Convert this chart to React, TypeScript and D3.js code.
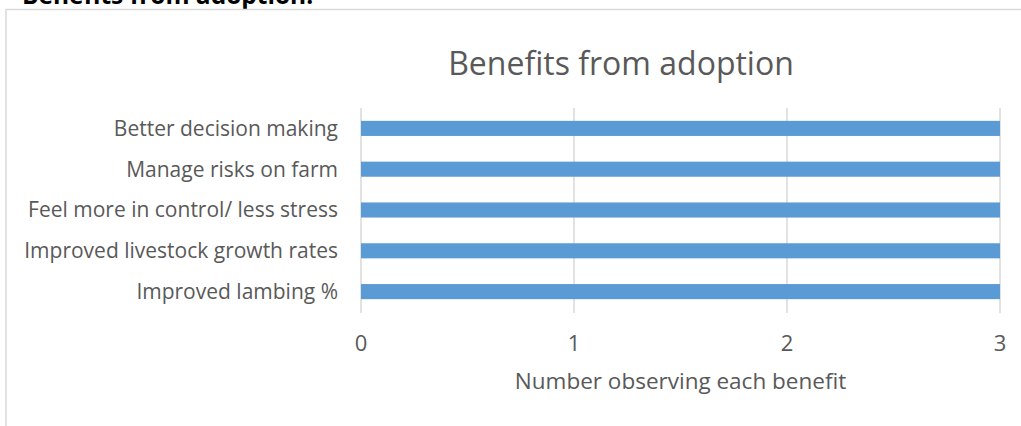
import React from "react";
import * as d3 from "d3";

const categories = [
  "Better decision making",
  "Manage risks on farm",
  "Feel more in control/ less stress",
  "Improved livestock growth rates",
  "Improved lambing %",
];
const values = [3, 3, 3, 3, 3];
const xTicks = [0, 1, 2, 3];

const W = 1021;
const H = 426;
const FONT = "'Open Sans', 'Noto Sans', sans-serif";
const GRAY = "#595959";

export default function App() {
  const x = d3.scaleLinear().domain([0, 3]).range([361, 1000]);
  const y = d3
    .scaleBand<string>()
    .domain(categories)
    .range([108, 312])
    .paddingInner(0.63)
    .paddingOuter(0.315);

  return (
    <svg
      width={W}
      height={H}
      style={{ position: "absolute", left: 0, top: 0, background: "#fff" }}
    >
      <text
        x={22}
        y={4}
        fontFamily={FONT}
        fontWeight="bold"
        fontSize={24.5}
        fill="#000"
      >
        Benefits from adoption:
      </text>
      <rect
        x={6}
        y={9.5}
        width={W + 20}
        height={H + 20}
        fill="#fff"
        stroke="#d9d9d9"
        strokeWidth={1.5}
      />
      <text
        x={621}
        y={75}
        textAnchor="middle"
        fontFamily={FONT}
        fontSize={32}
        fill={GRAY}
      >
        Benefits from adoption
      </text>
      {xTicks.map((t) => (
        <line
          key={"g" + t}
          x1={x(t)}
          x2={x(t)}
          y1={108}
          y2={313}
          stroke="#d9d9d9"
          strokeWidth={1.5}
        />
      ))}
      {categories.map((c, i) => (
        <rect
          key={c}
          x={x(0)}
          y={y(c)}
          width={x(values[i]) - x(0)}
          height={y.bandwidth()}
          fill="#5b9bd5"
        />
      ))}
      {categories.map((c) => (
        <text
          key={"l" + c}
          x={338}
          y={(y(c) as number) + y.bandwidth() / 2}
          dy="0.35em"
          textAnchor="end"
          fontFamily={FONT}
          fontSize={21}
          fill={GRAY}
        >
          {c}
        </text>
      ))}
      {xTicks.map((t) => (
        <text
          key={"t" + t}
          x={x(t)}
          y={343}
          dy="0.35em"
          textAnchor="middle"
          fontFamily={FONT}
          fontSize={22}
          fill={GRAY}
        >
          {t}
        </text>
      ))}
      <text
        x={(x(0) + x(3)) / 2}
        y={389}
        textAnchor="middle"
        fontFamily={FONT}
        fontSize={22.5}
        fill={GRAY}
      >
        Number observing each benefit
      </text>
    </svg>
  );
}
